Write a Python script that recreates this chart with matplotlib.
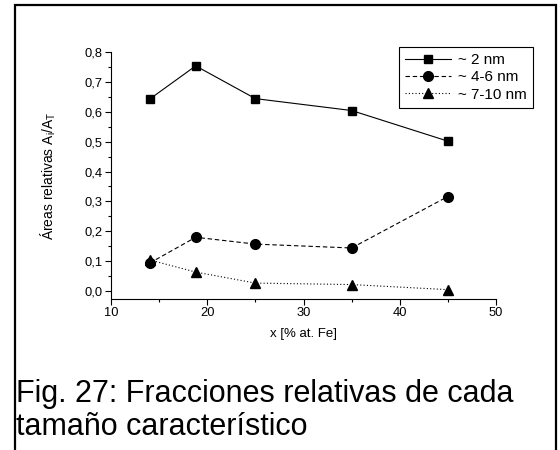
import matplotlib.pyplot as plt
from matplotlib.ticker import MultipleLocator, FuncFormatter
from matplotlib.patches import Rectangle

plt.rcParams['font.family'] = ['Liberation Sans', 'DejaVu Sans']
plt.rcParams['mathtext.fontset'] = 'custom'
plt.rcParams['mathtext.rm'] = 'Liberation Sans'
plt.rcParams['mathtext.it'] = 'Liberation Sans'

# data
x_fe = [14.0, 18.8, 25.0, 35.0, 45.0]
area_2nm = [0.643, 0.755, 0.645, 0.605, 0.502]
area_4_6nm = [0.092, 0.179, 0.156, 0.143, 0.316]
area_7_10nm = [0.103, 0.062, 0.025, 0.020, 0.003]
labels = ['~ 2 nm', '~ 4-6 nm', '~ 7-10 nm']
caption = "Fig. 27: Fracciones relativas de cada\ntamaño característico"

fig = plt.figure(figsize=(5.6, 4.5), dpi=100)
ax = fig.add_axes([111/560, 1 - 299/450, 385/560, 246.5/450])

ax.plot(x_fe, area_2nm, '-', marker='s', color='black', lw=0.8, ms=6.2, label=labels[0])
ax.plot(x_fe, area_4_6nm, '--', marker='o', color='black', lw=0.8, ms=7, dashes=(4, 2.5), label=labels[1])
ax.plot(x_fe, area_7_10nm, ':', marker='^', color='black', lw=0.8, ms=7.5, dashes=(1, 2), label=labels[2])

ax.set_xlim(10, 50)
ax.set_ylim(-0.0285, 0.8)
ax.xaxis.set_major_locator(MultipleLocator(10))
ax.xaxis.set_minor_locator(MultipleLocator(5))
ax.yaxis.set_major_locator(MultipleLocator(0.1))
ax.yaxis.set_minor_locator(MultipleLocator(0.05))
ax.yaxis.set_major_formatter(FuncFormatter(lambda v, p: f"{v:.1f}".replace('.', ',').replace('-0,0', '0,0')))

for side in ['top', 'right']:
    ax.spines[side].set_visible(False)
for side in ['left', 'bottom']:
    ax.spines[side].set_linewidth(0.8)
ax.tick_params(which='major', direction='out', length=4, width=0.8, labelsize=9.3, pad=2)
ax.tick_params(which='minor', direction='out', length=2.2, width=0.8)

ax.set_xlabel("x [% at. Fe]", fontsize=9.5, labelpad=6)
ax.set_ylabel(r"Áreas relativas A$_\mathregular{i}$/A$_\mathregular{T}$", fontsize=10, labelpad=19)

leg = ax.legend(loc='upper right', bbox_to_anchor=(533/560, 1 - 47/450), bbox_transform=fig.transFigure,
                fontsize=11, numpoints=1, handlelength=3.0, handletextpad=0.45, labelspacing=0.22,
                fancybox=False, edgecolor='black', framealpha=1, borderpad=0.4, borderaxespad=0)
leg.get_frame().set_linewidth(0.8)

fig.text(16/560, 1 - 379/450, caption, fontsize=22, va='top', ha='left', linespacing=1.12)

# outer border of the figure panel
fig.patches.append(Rectangle((15/560, -0.05), 541/560, 1.05 - 5/450, transform=fig.transFigure,
                             fill=False, edgecolor='black', lw=1.6))

fig.savefig('out.png', dpi=100)
